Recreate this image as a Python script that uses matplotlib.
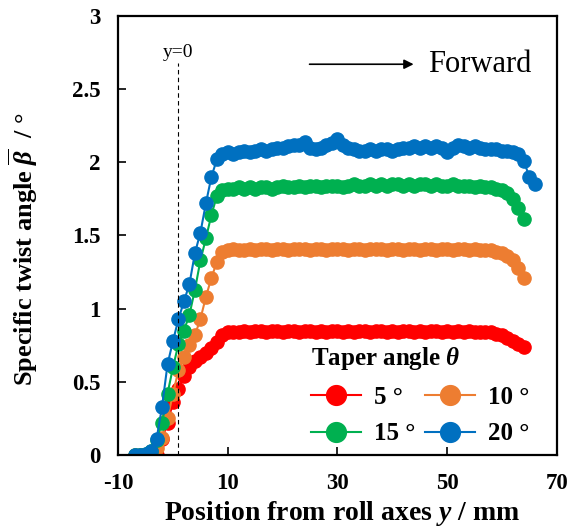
import matplotlib
matplotlib.use("Agg")
import matplotlib.pyplot as plt

plt.rcParams['font.family'] = ['Liberation Serif', 'DejaVu Serif']
plt.rcParams['mathtext.fontset'] = 'custom'
plt.rcParams['mathtext.rm'] = 'Liberation Serif:bold'
plt.rcParams['mathtext.it'] = 'Liberation Serif:bold:italic'
plt.rcParams['mathtext.bf'] = 'Liberation Serif:bold'
plt.rcParams['axes.unicode_minus'] = False

# positions y (mm), one reading every ~1 mm
pos = [-7, -6, -5, -4, -3, -2, -1, 0, 1, 2, 3, 4, 5, 6, 7, 8, 9, 10,
       11, 12, 13, 14, 15, 16, 17, 18, 19, 20, 21, 22, 23, 24, 25, 26,
       27, 28, 29, 30, 31, 32, 33, 34, 35, 36, 37, 38, 39, 40, 41, 42,
       43, 44, 45, 46, 47, 48, 49, 50, 51, 52, 53, 54, 55, 56, 57, 58,
       59, 60, 61, 62, 63, 64, 65, 66]

# specific twist angle (deg) for each taper angle
twist_5 = [None, None, None, None, 0.0, 0.11, 0.22, 0.36, 0.45, 0.54, 0.60, 0.64,
           0.67, 0.70, 0.73, 0.77, 0.82, 0.84,
           0.84, 0.84, 0.85, 0.84, 0.85, 0.85, 0.84, 0.85, 0.85, 0.84, 0.85, 0.85,
           0.84, 0.85, 0.85, 0.84, 0.85, 0.84, 0.85, 0.85, 0.84, 0.85, 0.84, 0.85,
           0.85, 0.84, 0.85, 0.85, 0.84, 0.85, 0.84, 0.85, 0.85, 0.84, 0.85, 0.84,
           0.85, 0.85, 0.84, 0.85, 0.84, 0.85, 0.84, 0.85, 0.84, 0.84, 0.84, 0.84,
           0.83, 0.82, 0.80, 0.78, 0.76, 0.74]
twist_10 = [0.0, 0.0, 0.0, 0.02, 0.05, 0.12, 0.25, 0.42, 0.58, 0.67, 0.75, 0.82,
            0.93, 1.08, 1.21, 1.32, 1.39, 1.40,
            1.41, 1.40, 1.40, 1.41, 1.40, 1.41, 1.41, 1.40, 1.41, 1.41, 1.40, 1.41,
            1.41, 1.41, 1.40, 1.41, 1.41, 1.40, 1.41, 1.41, 1.41, 1.40, 1.41, 1.41,
            1.40, 1.41, 1.41, 1.41, 1.40, 1.41, 1.41, 1.40, 1.41, 1.41, 1.40, 1.41,
            1.41, 1.40, 1.41, 1.41, 1.40, 1.41, 1.41, 1.40, 1.41, 1.40, 1.40, 1.40,
            1.39, 1.38, 1.36, 1.33, 1.28, 1.21]
twist_15 = [0.0, 0.0, 0.01, 0.03, 0.10, 0.22, 0.42, 0.60, 0.76, 0.85, 0.96, 1.13,
            1.33, 1.48, 1.64, 1.77, 1.81, 1.82,
            1.82, 1.83, 1.82, 1.83, 1.82, 1.83, 1.83, 1.82, 1.83, 1.84, 1.83, 1.83,
            1.84, 1.83, 1.84, 1.84, 1.83, 1.84, 1.84, 1.84, 1.83, 1.84, 1.85, 1.84,
            1.84, 1.85, 1.84, 1.85, 1.84, 1.85, 1.85, 1.84, 1.85, 1.84, 1.85, 1.85,
            1.84, 1.85, 1.84, 1.84, 1.85, 1.84, 1.84, 1.84, 1.83, 1.84, 1.83, 1.83,
            1.82, 1.81, 1.79, 1.75, 1.69, 1.61]
twist_20 = [0.0, 0.0, 0.01, 0.03, 0.11, 0.33, 0.62, 0.78, 0.93, 1.05, 1.17, 1.38,
            1.52, 1.72, 1.90, 2.02, 2.06, 2.07,
            2.06, 2.07, 2.08, 2.07, 2.08, 2.09, 2.08, 2.09, 2.10, 2.10, 2.11, 2.12,
            2.12, 2.14, 2.10, 2.09, 2.10, 2.12, 2.13, 2.16, 2.12, 2.10, 2.09, 2.08,
            2.08, 2.09, 2.08, 2.09, 2.09, 2.08, 2.09, 2.10, 2.10, 2.11, 2.10, 2.11,
            2.10, 2.11, 2.10, 2.07, 2.10, 2.12, 2.11, 2.10, 2.11, 2.10, 2.09, 2.09,
            2.09, 2.08, 2.08, 2.07, 2.06, 2.01, 1.90, 1.85]

series = [
    (twist_5, "#FF0000", "5 °"),
    (twist_10, "#ED7D31", "10 °"),
    (twist_15, "#00B050", "15 °"),
    (twist_20, "#0070C0", "20 °"),
]

fig = plt.figure(figsize=(5.71, 5.31), dpi=100)
ax = fig.add_axes([0.207, 0.143, 0.768, 0.827])

handles = []
for vals, col, lab in series:
    xs = [p for p, v in zip(pos, vals) if v is not None]
    ys = [v for v in vals if v is not None]
    h, = ax.plot(xs, ys, color=col, lw=1.5, marker='o', ms=9.5, mec=col,
                 mfc=col, label=lab)
    handles.append(h)

# y = 0 reference line
ax.plot([1, 1], [0, 2.68], color='black', lw=0.8, ls=(0, (4, 3)))
ax.text(1, 2.75, "y=0", ha='center', va='center', fontsize=14)

# direction arrow
ax.annotate("", xy=(44.4, 2.67), xytext=(24.4, 2.67),
            arrowprops=dict(arrowstyle='-|>', color='black', lw=1.2,
                            mutation_scale=14))
ax.text(46.6, 2.67, "Forward", ha='left', va='center', fontsize=22)

ax.set_xlim(-10, 70)
ax.set_ylim(0, 3)
ax.set_xticks([-10, 10, 30, 50, 70])
ax.set_yticks([0, 0.5, 1, 1.5, 2, 2.5, 3])
ax.set_yticklabels(["0", "0.5", "1", "1.5", "2", "2.5", "3"])
ax.tick_params(direction='in', length=6, width=1.2, labelsize=16.5)
ax.tick_params(axis='y', pad=13)
ax.tick_params(axis='x', pad=13)
for lb in ax.get_xticklabels() + ax.get_yticklabels():
    lb.set_fontweight('bold')
for sp in ax.spines.values():
    sp.set_linewidth(1.6)

ax.set_xlabel("Position from roll axes $y$ / mm", fontsize=20,
              fontweight='bold')
ax.xaxis.set_label_coords(0.51, -0.1)
ax.set_ylabel(r"Specific twist angle $\overline{\beta}$  / °", fontsize=19,
              fontweight='bold')
ax.yaxis.set_label_coords(-0.178, 0.47)

# row-wise legend order: 5, 10 / 15, 20
order = [0, 2, 1, 3]
leg = ax.legend([handles[i] for i in order], [series[i][2] for i in order],
                ncol=2, frameon=False, loc='lower left',
                bbox_to_anchor=(0.44, 0.022), title=r"Taper angle $\theta$",
                alignment='left',
                prop={'size': 18, 'weight': 'bold'}, markerscale=1.5,
                handlelength=2.0, columnspacing=0.4, handletextpad=0.5,
                labelspacing=0.55, borderpad=0.0, borderaxespad=0.0)
leg.get_title().set_fontsize(18)
leg.get_title().set_fontweight('bold')

fig.savefig("out.png", dpi=100)
